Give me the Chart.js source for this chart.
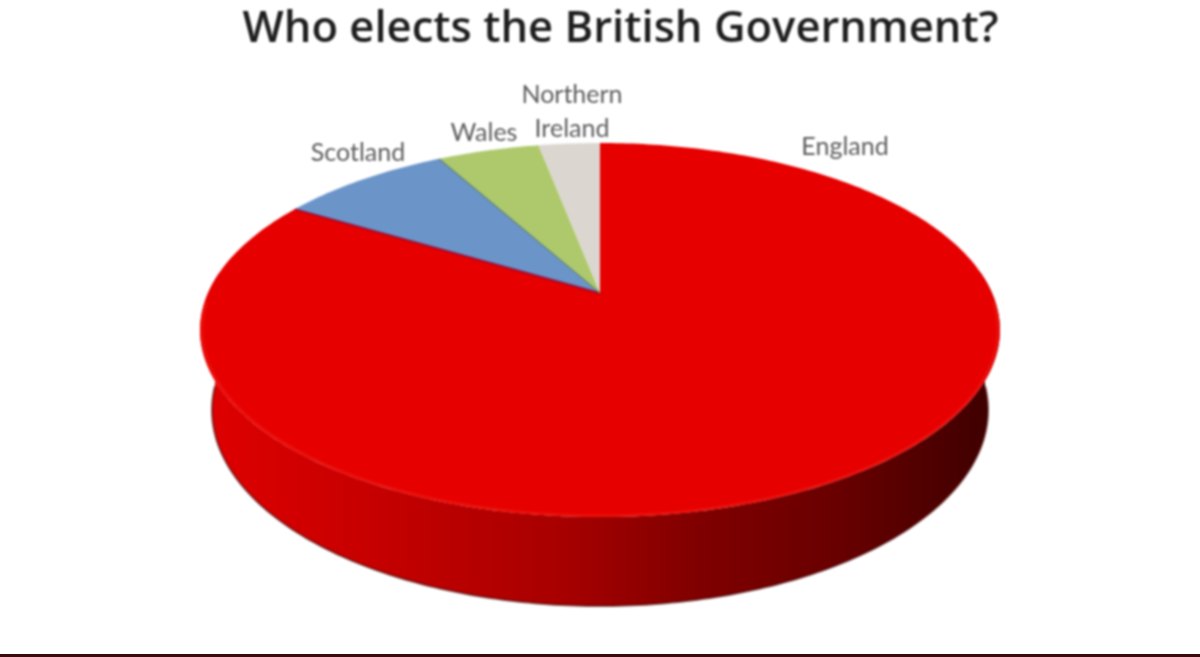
<!DOCTYPE html>
<html>
<head>
<meta charset="utf-8">
<title>Who elects the British Government?</title>
<script src="https://cdn.jsdelivr.net/npm/chart.js@4"></script>
<style>
  html, body { margin: 0; padding: 0; background: #fff; overflow: hidden; }
  canvas { display: block; width: 1200px; height: 657px; filter: blur(0.8px); }
  #strip { position: absolute; left: 0; top: 654px; width: 1200px; height: 3px; background: #3d0a10; }
</style>
</head>
<body>
<canvas id="chartPie" width="1200" height="657"></canvas>
<div id="strip"></div>
<script>
const categories = ['England', 'Scotland', 'Wales', ['Northern', 'Ireland']];
const shares = [83.6, 8.4, 5.0, 3.0];
const sliceColors = ['#e60000', '#6b95c9', '#aec96c', '#dcd6d0'];
const seamWidths = [0, 2, 1.5, 0];
const seamColors = ['#e60000', 'rgba(140,0,50,0.75)', 'rgba(70,110,100,0.6)', '#dcd6d0'];
const chartTitle = 'Who elects the British Government?';

// label centres on the page, same order as categories
const labelSpots = [[845, 147], [358, 153], [484, 133], [572, 112]];

// perspective of the top face: apex of the slices at (600,293)
const apexX = 600, apexY = 293;
const topA = 392, topB = 179.7, topK = -0.198;

function project(a, r) {
  const x = Math.cos(a) * r, y = Math.sin(a) * r;
  const w = 1 + topK * y;
  return [apexX + topA * x / w, apexY + topB * y / w];
}

// lower rim of the pie
function projectLow(a) {
  return [600 + 388 * Math.cos(a), 410 + 196 * Math.sin(a)];
}

// slices get drawn in perspective, angles still come from the pie controller
Chart.ArcElement.prototype.draw = function (ctx) {
  const o = this.options;
  ctx.beginPath();
  ctx.moveTo(apexX, apexY);
  const steps = Math.max(2, Math.ceil((this.endAngle - this.startAngle) * 60));
  for (let i = 0; i <= steps; i++) {
    const p = project(this.startAngle + (this.endAngle - this.startAngle) * i / steps, 1);
    ctx.lineTo(p[0], p[1]);
  }
  ctx.closePath();
  ctx.fillStyle = o.backgroundColor;
  ctx.fill();
  if (o.borderWidth > 0) {
    // only the seam along the first radius
    const s = project(this.startAngle, 1);
    ctx.beginPath();
    ctx.moveTo(apexX, apexY);
    ctx.lineTo(s[0], s[1]);
    ctx.strokeStyle = o.borderColor;
    ctx.lineWidth = o.borderWidth;
    ctx.stroke();
  }
};

const wallPlugin = {
  id: 'wall',
  beforeDatasetsDraw(chart) {
    const ctx = chart.ctx;
    const from = -0.12, to = Math.PI + 0.12;
    const grad = ctx.createLinearGradient(200, 0, 1000, 0);
    grad.addColorStop(0, '#e00000');
    grad.addColorStop(0.2, '#c80000');
    grad.addColorStop(0.45, '#a80000');
    grad.addColorStop(0.62, '#800000');
    grad.addColorStop(0.8, '#680000');
    grad.addColorStop(1, '#3c0000');
    ctx.save();
    ctx.beginPath();
    for (let i = 0; i <= 200; i++) {
      const p = project(from + (to - from) * i / 200, 1);
      ctx.lineTo(p[0], p[1]);
    }
    for (let i = 200; i >= 0; i--) {
      const p = projectLow(from + (to - from) * i / 200);
      ctx.lineTo(p[0], p[1]);
    }
    ctx.closePath();
    ctx.fillStyle = grad;
    ctx.fill();
    ctx.beginPath();
    for (let i = 0; i <= 200; i++) {
      const p = projectLow(from + (to - from) * i / 200);
      ctx.lineTo(p[0], p[1]);
    }
    ctx.strokeStyle = 'rgba(70,0,0,0.6)';
    ctx.lineWidth = 2;
    ctx.stroke();
    ctx.restore();
  },
  afterDatasetsDraw(chart) {
    const ctx = chart.ctx;
    ctx.save();
    // light edge where the top meets the wall
    ctx.beginPath();
    for (let i = 0; i <= 200; i++) {
      const p = project(0.05 + (Math.PI - 0.1) * i / 200, 0.995);
      ctx.lineTo(p[0], p[1]);
    }
    ctx.strokeStyle = 'rgba(240,30,25,0.45)';
    ctx.lineWidth = 3;
    ctx.stroke();
    // labels
    ctx.fillStyle = '#5c5c5c';
    ctx.font = '25px Lato';
    ctx.textAlign = 'center';
    ctx.textBaseline = 'middle';
    categories.forEach((c, i) => {
      const lines = Array.isArray(c) ? c : [c];
      lines.forEach((line, j) => {
        ctx.fillText(line, labelSpots[i][0], labelSpots[i][1] + (j - (lines.length - 1) / 2) * 34);
      });
    });
    ctx.restore();
  }
};

new Chart(document.getElementById('chartPie'), {
  type: 'pie',
  data: {
    labels: categories,
    datasets: [{
      data: shares,
      backgroundColor: sliceColors,
      borderColor: seamColors,
      borderWidth: seamWidths
    }]
  },
  options: {
    responsive: false,
    animation: false,
    layout: { padding: { top: 0, bottom: 60, left: 41 } },
    plugins: {
      legend: { display: false },
      tooltip: { enabled: false },
      title: {
        display: true,
        text: chartTitle,
        color: '#1e1e1e',
        font: { family: 'Open Sans', size: 43.6, weight: '600' },
        padding: { top: 3, bottom: 10 }
      }
    }
  },
  plugins: [wallPlugin]
});
</script>
</body>
</html>
